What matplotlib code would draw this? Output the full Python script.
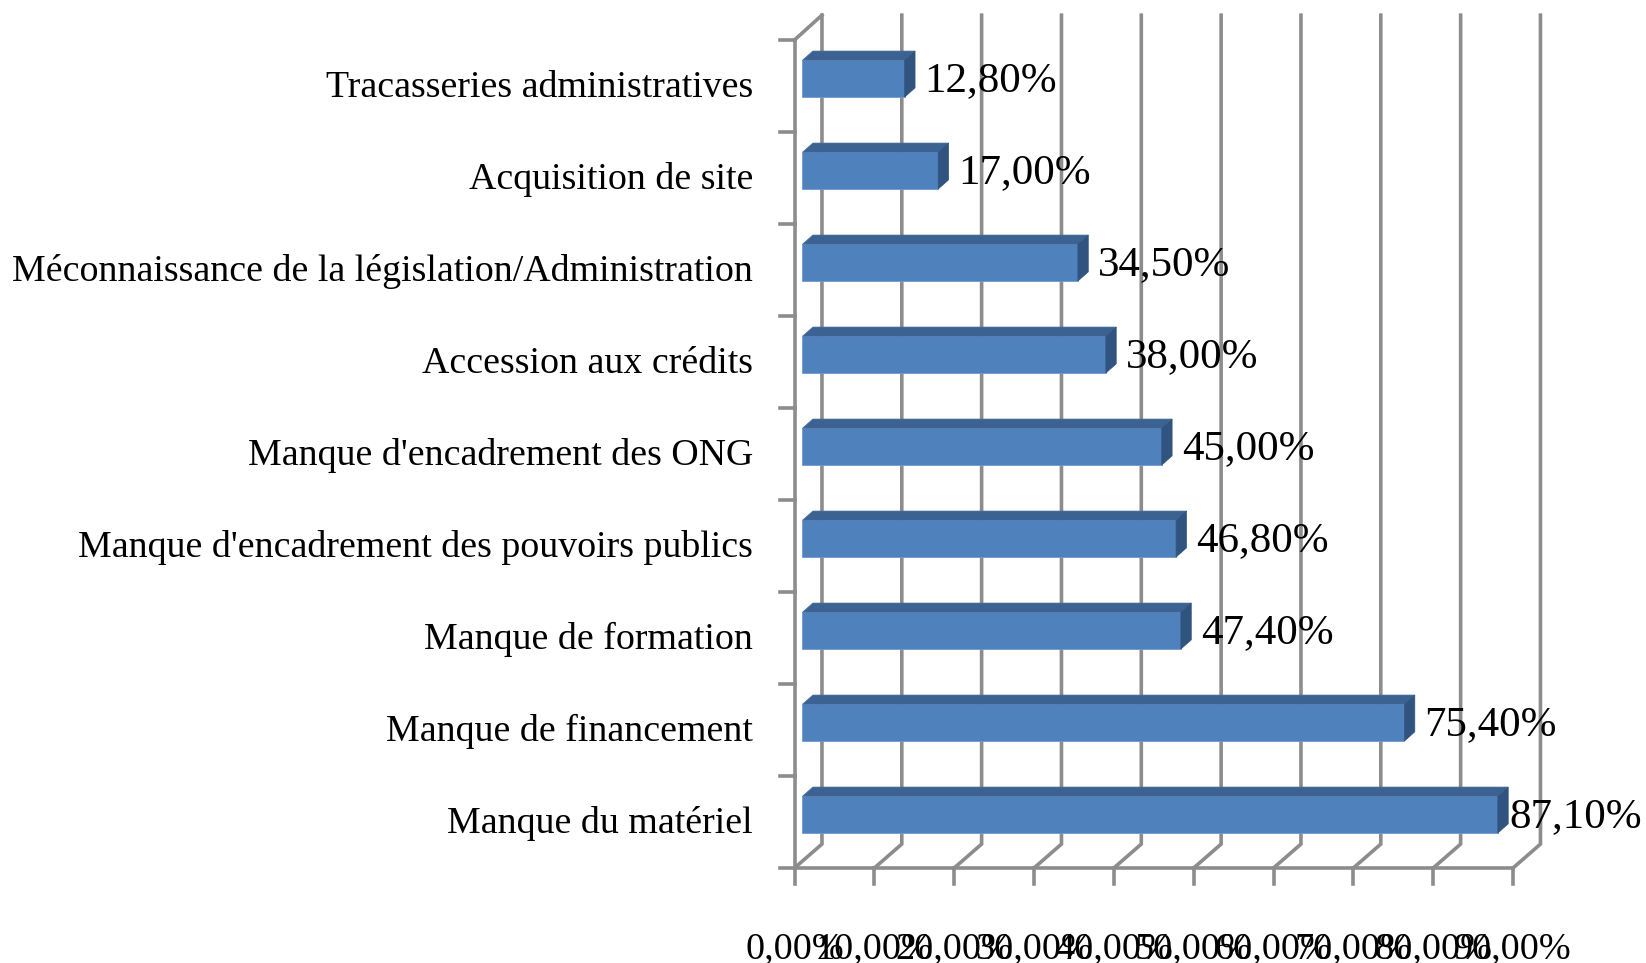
import matplotlib
matplotlib.use('Agg')
import matplotlib.pyplot as plt
from matplotlib.patches import Polygon

plt.rcParams['font.family'] = ['Liberation Serif', 'DejaVu Serif']

categories = ["Tracasseries administratives", "Acquisition de site",
              "Méconnaissance de la législation/Administration", "Accession aux crédits",
              "Manque d'encadrement des ONG", "Manque d'encadrement des pouvoirs publics",
              "Manque de formation", "Manque de financement", "Manque du matériel"]
values = [12.8, 17.0, 34.5, 38.0, 45.0, 46.8, 47.4, 75.4, 87.1]
value_labels = ["12,80%", "17,00%", "34,50%", "38,00%", "45,00%", "46,80%", "47,40%", "75,40%", "87,10%"]
x_ticks = [0, 10, 20, 30, 40, 50, 60, 70, 80, 90]
x_tick_labels = ["0,00%", "10,00%", "20,00%", "30,00%", "40,00%", "50,00%", "60,00%", "70,00%", "80,00%", "90,00%"]

W, H = 1646, 963
fig = plt.figure(figsize=(W / 100, H / 100), dpi=100)
# l'axe correspond au plan avant du graphique
ax = fig.add_axes([794.5 / W, 1 - 868 / H, (1513 - 794.5) / W, (868 - 40) / H])
ax.set_xlim(0, 90)
ax.set_ylim(9, 0)
ax.axis('off')

grey = '#8c8c8c'
lw = 2.6
depth_x = 3.44   # decalage du fond
depth_y = 0.26
top_y = 0.27 - depth_y - 0.28

# parois
for t in x_ticks:
    ax.plot([t, t + depth_x, t + depth_x], [9, 9 - depth_y, top_y], color=grey, lw=lw, clip_on=False, zorder=1, solid_joinstyle='miter')
    ax.plot([t, t], [9, 9.175], color=grey, lw=lw, clip_on=False, zorder=1)
    ax.text(t, 9.88, x_tick_labels[x_ticks.index(t)], ha='center', va='center', fontsize=27.5, color='black', clip_on=False, zorder=5)
ax.plot([0, 90], [9, 9], color=grey, lw=lw, clip_on=False, zorder=1)
ax.plot([0, 0], [0, 9], color=grey, lw=lw, clip_on=False, zorder=1)
ax.plot([0, depth_x], [0, top_y], color=grey, lw=lw, clip_on=False, zorder=1)
for i in range(10):
    ax.plot([-1.8, 0], [i, i], color=grey, lw=lw, clip_on=False, zorder=1)

# barres
start = 1.0
bar_h = 0.40
off_x = 1.3
off_y = 0.10
for i, v in enumerate(values):
    y0 = i + 0.42 - bar_h / 2
    y1 = y0 + bar_h
    ax.barh(i + 0.42, v, height=bar_h, left=start, color='#4f81bd', edgecolor='#6f9bd0', lw=0.6, zorder=3)
    ax.add_patch(Polygon([(start, y0), (start + off_x, y0 - off_y), (start + v + off_x, y0 - off_y), (start + v, y0)],
                         closed=True, fc='#3c6291', ec='#4a72a5', lw=0.5, zorder=3))
    ax.add_patch(Polygon([(start + v, y0), (start + v + off_x, y0 - off_y), (start + v + off_x, y1 - off_y), (start + v, y1)],
                         closed=True, fc='#30547f', ec='#30547f', lw=0.5, zorder=3))
    gap = 1.5 if v > 80 else 2.5
    ax.text(start + v + gap, i + 0.44, value_labels[i], ha='left', va='center', fontsize=31, color='black', clip_on=False, zorder=5)
    ax.text(-5.2, i + 0.52, categories[i], ha='right', va='center', fontsize=27.3, color='black', clip_on=False, zorder=5)

fig.savefig('out.png', dpi=100)
